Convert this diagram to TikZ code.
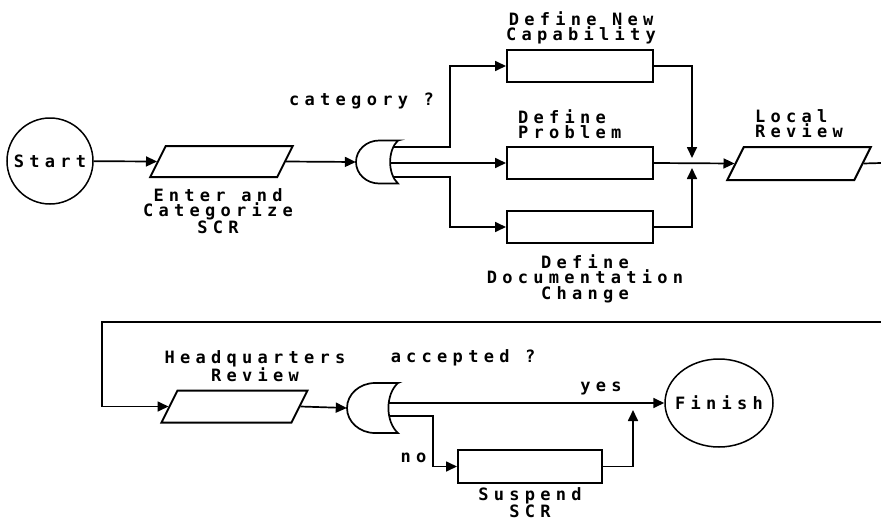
\documentclass[tikz,border=0pt]{standalone}
\usepackage{fontspec}
\usepackage{tikz}
\usetikzlibrary{arrows.meta,shapes.geometric}
\newfontfamily\chartfont[LetterSpace=31]{DejaVu Sans Mono}

\tikzset{
  orgate/.pic={
    \draw[line width=1.7pt, fill=white] (1,-1) -- (0.1,-1)
      arc[start angle=270, end angle=90, x radius=1.1, y radius=1] -- (1,1)
      .. controls (0.5,0.55) and (0.5,-0.55) .. cycle;
  }
}

\begin{document}
\begin{tikzpicture}[x=1pt, y=-1pt,
  flow/.style={line width=1.7pt},
  arr/.style={flow, -{Triangle[length=11pt,width=10pt]}},
  task/.style={draw, line width=2pt, minimum width=146pt, minimum height=32pt, inner sep=0pt},
  io/.style={draw, rectangle, xslant=0.5, line width=2pt, inner sep=0pt},
  term/.style={draw, ellipse, line width=1.5pt, inner sep=0pt},
  choice/.style={rectangle, inner sep=0pt},
  lbl/.style={inner sep=0pt, align=center, font=\chartfont\bfseries\fontsize{17}{15.5}\selectfont}]
  \useasboundingbox (0,0) rectangle (881,522);

  \node[term, minimum width=86pt, minimum height=86pt] (start) at (50,161) {};
  \node[io, minimum width=127pt, minimum height=31pt] (enter) at (221.5,161.5) {};
  \node[choice, minimum width=42pt, minimum height=43pt] (catgate) at (377,162) {};
  \node[task] (newcap) at (580,66) {};
  \node[task] (defprob) at (580,163) {};
  \node[task] (defdoc) at (580,227) {};
  \node[io, minimum width=127pt, minimum height=33pt] (localrev) at (799,163.5) {};
  \node[io, minimum width=130pt, minimum height=32pt] (hqrev) at (234.5,406.5) {};
  \node[choice, minimum width=51pt, minimum height=50pt] (accgate) at (372.5,408) {};
  \node[task, minimum width=144pt, minimum height=33pt] (suspend) at (530,466.5) {};
  \node[term, minimum width=108pt, minimum height=88pt] (finish) at (719,403) {};

  \node[lbl] (starttxt) at (start) {Start};
  \node[lbl] (finishtxt) at (finish) {Finish};
  \node[lbl, anchor=north] (enterlbl) at (218,188) {Enter and\\Categorize\\SCR};
  \node[lbl, anchor=base] (catlbl) at (361.5,105) {category ?};
  \node[lbl, anchor=north] (newcaplbl) at (581,11) {Define New\\Capability};
  \node[lbl, anchor=north west, align=left] (defproblbl) at (518,109) {Define\\Problem};
  \node[lbl, anchor=north] (defdoclbl) at (585,254) {Define\\Documentation\\Change};
  \node[lbl, anchor=north west, align=left] (localrevlbl) at (755,109) {Local\\Review};
  \node[lbl, anchor=north] (hqrevlbl) at (255,350) {Headquarters\\Review};
  \node[lbl, anchor=base] (acclbl) at (463,362) {accepted ?};
  \node[lbl, anchor=base] (yeslbl) at (601,391) {yes};
  \node[lbl, anchor=base] (nolbl) at (413.5,462) {no};
  \node[lbl, anchor=north] (suspendlbl) at (530,487) {Suspend\\SCR};

  \coordinate (forkup) at (450,147);
  \coordinate (forklo) at (450,177);
  \coordinate (merge) at (692,163);
  \coordinate (outR) at (881,163);
  \coordinate (inR) at (881,322);
  \coordinate (loopL) at (102,322);
  \coordinate (nofork) at (433,416);
  \coordinate (join) at (633,403);

  \draw[arr] (start) -- (enter.west);
  \draw[arr] (enter.east) -- (catgate.west);
  \draw[arr] (catgate.center |- forkup) -- (forkup) |- (newcap.west);
  \draw[arr] (catgate.center |- defprob.west) -- (defprob.west);
  \draw[arr] (catgate.center |- forklo) -- (forklo) |- (defdoc.west);
  \draw[arr, shorten >=5pt] (newcap.east) -| (merge);
  \draw[arr, shorten >=5pt] (defdoc.east) -| (merge);
  \draw[arr] (defprob.east) -- (localrev.west);
  \draw[flow] (localrev.east) -- (outR);
  \draw[arr] (inR) -- (loopL) |- (hqrev.west);
  \draw[arr] (hqrev.east) -- (accgate.west);
  \draw[arr] (accgate.center |- finish.west) -- (finish.west);
  \draw[arr] (accgate.center |- nofork) -- (nofork) |- (suspend.west);
  \draw[arr, shorten >=7pt] (suspend.east) -| (join);

  \pic[xscale=21, yscale=21.5] at (catgate) {orgate};
  \pic[xscale=25.5, yscale=25] at (accgate) {orgate};
\end{tikzpicture}
\end{document}
